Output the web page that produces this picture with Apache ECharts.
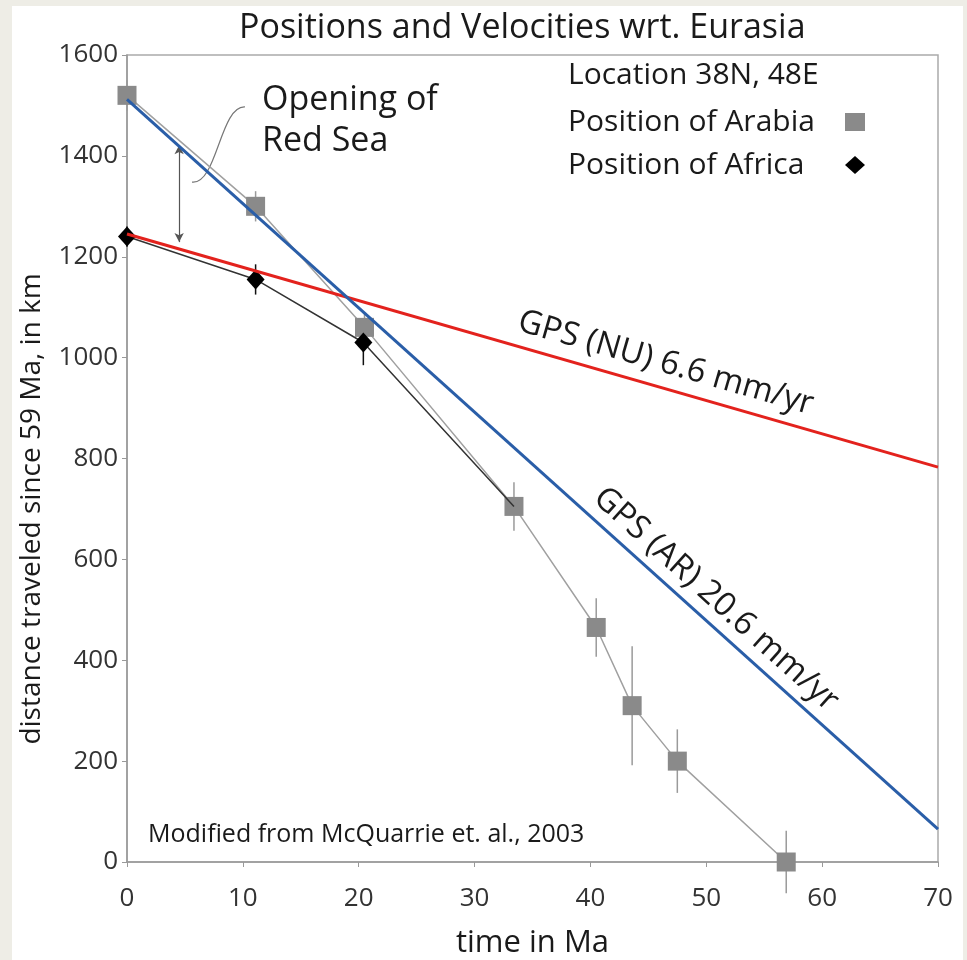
<!DOCTYPE html>
<html><head><meta charset="utf-8">
<script src="https://cdn.jsdelivr.net/npm/echarts@6/dist/echarts.min.js"></script>
<style>
html,body{margin:0;padding:0;background:#eeede6;}
#frame{position:absolute;left:12px;top:6px;width:951px;height:954px;background:#fff;}
#chart{position:absolute;left:0;top:0;width:967px;height:960px;}
</style>
</head><body><div id="frame"></div><div id="chart"></div>
<script>
// ---- data ----
const arabiaAge  = [0, 11.1, 20.5, 33.4, 40.5, 43.6, 47.5, 56.9];
const arabiaDist = [1520, 1300, 1060, 705, 465, 310, 200, 0];
const arabiaErr  = [30, 30, 30, 48, 58, 118, 63, 62];
const africaAge  = [0, 11.1, 20.4, 33.4];
const africaDist = [1240, 1155, 1030, 705];
const africaErr  = [20, 30, 45];
const gpsNU = [[0, 1245], [70, 783]];
const gpsAR = [[0, 1512], [70, 65]];
const xTicks = [0, 10, 20, 30, 40, 50, 60, 70];
const yTicks = [0, 200, 400, 600, 800, 1000, 1200, 1400, 1600];
const redSeaArrow = [[4.5, 1421], [4.5, 1229]];

const FONT = '"Open Sans", "Noto Sans", sans-serif';
const chart = echarts.init(document.getElementById('chart'), null, {renderer: 'canvas'});

const arabiaData = arabiaAge.map((a, i) => [a, arabiaDist[i]]);
const africaData = africaAge.map((a, i) => i < africaAge.length - 1 ? [a, africaDist[i]] : {value: [a, africaDist[i]], symbol: 'none'});
const arabiaErrData = arabiaAge.map((a, i) => [a, arabiaDist[i] - arabiaErr[i], arabiaDist[i] + arabiaErr[i]]);
const africaErrData = africaErr.map((e, i) => [africaAge[i], africaDist[i] - e, africaDist[i] + e]);

function errRender(color) {
  return function (params, api) {
    const p1 = api.coord([api.value(0), api.value(1)]);
    const p2 = api.coord([api.value(0), api.value(2)]);
    return {type: 'line', shape: {x1: p1[0], y1: p1[1], x2: p2[0], y2: p2[1]},
      style: {stroke: color, lineWidth: 1.5}};
  };
}

const option = {
  animation: false,
  title: {text: 'Positions and Velocities wrt. Eurasia', left: 234, top: 6,
    textStyle: {fontFamily: FONT, fontSize: 34, fontWeight: 'normal', color: '#1a1a1a'}},
  grid: {left: 127, right: 29, top: 55, bottom: 98, show: true, borderColor: '#aaa', borderWidth: 1.5,
    backgroundColor: 'transparent', containLabel: false, outerBoundsMode: 'none'},
  legend: {
    left: 568, top: 107, orient: 'vertical', align: 'right', itemGap: 13,
    itemWidth: 20, itemHeight: 18, padding: 0,
    formatter: name => '{t|' + name + '}',
    textStyle: {fontFamily: FONT, fontSize: 30, color: '#1a1a1a', lineHeight: 30,
      rich: {t: {width: 272, align: 'left', fontFamily: FONT, fontSize: 30, color: '#1a1a1a', lineHeight: 30}}},
    data: [{name: 'Position of Arabia', icon: 'rect'}, {name: 'Position of Africa', icon: 'diamond'}]
  },
  xAxis: {
    type: 'value', min: xTicks[0], max: xTicks[xTicks.length - 1], interval: 10,
    name: 'time in Ma', nameLocation: 'middle', nameGap: 66,
    nameTextStyle: {fontFamily: FONT, fontSize: 31, color: '#1a1a1a'},
    axisLine: {show: true, lineStyle: {color: '#999', width: 1.5}},
    axisTick: {show: true, inside: false, length: 5, lineStyle: {color: '#999'}},
    axisLabel: {fontFamily: FONT, fontSize: 26, color: '#333', margin: 24},
    splitLine: {show: false}
  },
  yAxis: {
    type: 'value', min: yTicks[0], max: yTicks[yTicks.length - 1], interval: 200,
    axisLine: {show: true, lineStyle: {color: '#999', width: 1.5}},
    axisTick: {show: true, inside: false, length: 5, lineStyle: {color: '#999'}},
    axisLabel: {fontFamily: FONT, fontSize: 26, color: '#333', margin: 9, formatter: v => String(v)},
    splitLine: {show: false}
  },
  series: [
    {type: 'custom', name: 'errA', renderItem: errRender('#9a9a9a'), data: arabiaErrData, z: 2, silent: true},
    {type: 'custom', name: 'errF', renderItem: errRender('#111'), data: africaErrData, z: 2, silent: true},
    {type: 'line', name: 'Position of Arabia', data: arabiaData, z: 3,
      symbol: 'rect', symbolSize: 19, itemStyle: {color: '#8a8a8a'},
      lineStyle: {color: '#a0a0a0', width: 1.5}},
    {type: 'line', name: 'Position of Africa', data: africaData, z: 4,
      symbol: 'diamond', symbolSize: [18, 20], itemStyle: {color: '#000'},
      lineStyle: {color: '#333', width: 1.5},
      markLine: {silent: true, symbol: ['arrow', 'arrow'], symbolSize: [7, 9],
        lineStyle: {color: '#555', width: 1.2, type: 'solid'}, label: {show: false},
        data: [[{coord: redSeaArrow[0]}, {coord: redSeaArrow[1]}]]}},
    {type: 'line', name: 'GPS (NU)', data: gpsNU, z: 5, symbol: 'none',
      lineStyle: {color: '#e3221d', width: 3}},
    {type: 'line', name: 'GPS (AR)', data: gpsAR, z: 6, symbol: 'none',
      lineStyle: {color: '#2a5ea8', width: 3}},
    {type: 'custom', name: 'brace', silent: true, z: 3,
      data: [[10.18, 1497, 8.03, 1500, 7.77, 1342, 5.61, 1348]],
      renderItem: function (params, api) {
        const a = api.coord([api.value(0), api.value(1)]);
        const c1 = api.coord([api.value(2), api.value(3)]);
        const c2 = api.coord([api.value(4), api.value(5)]);
        const b = api.coord([api.value(6), api.value(7)]);
        return {type: 'bezierCurve', shape: {x1: a[0], y1: a[1], cpx1: c1[0], cpy1: c1[1], cpx2: c2[0], cpy2: c2[1], x2: b[0], y2: b[1]},
          style: {stroke: '#777', lineWidth: 1.2, fill: null}};
      }}
  ]
};
chart.setOption(option);

function px(p) { return chart.convertToPixel({gridIndex: 0}, p); }
function angleOf(line) {
  const a = px(line[0]), b = px(line[1]);
  return -Math.atan2(b[1] - a[1], b[0] - a[0]);
}
const open1 = px([11.65, 1511]);
const open2 = px([11.65, 1429]);
const nuC = px([46.5, 989]);
const arC = px([50.84, 521]);
const tStyle = (extra) => Object.assign({fontFamily: FONT, fill: '#1a1a1a'}, extra);

chart.setOption({
  graphic: [
    {type: 'text', x: 568, y: 75, style: tStyle({text: 'Location 38N, 48E', fontSize: 30, verticalAlign: 'middle'})},
    {type: 'text', x: open1[0], y: open1[1], style: tStyle({text: 'Opening of', fontSize: 34, verticalAlign: 'middle'})},
    {type: 'text', x: open2[0], y: open2[1], style: tStyle({text: 'Red Sea', fontSize: 34, verticalAlign: 'middle'})},
    {type: 'text', x: 148, y: 835, style: tStyle({text: 'Modified from McQuarrie et. al., 2003', fontSize: 25, verticalAlign: 'middle'})},
    {type: 'text', x: 32, y: 509, rotation: Math.PI / 2, originX: 0, originY: 0,
      style: tStyle({text: 'distance traveled since 59 Ma, in km', fontSize: 28, align: 'center', verticalAlign: 'middle'})},
    {type: 'text', x: nuC[0], y: nuC[1], rotation: angleOf(gpsNU), originX: 0, originY: 0,
      style: tStyle({text: 'GPS (NU) 6.6 mm/yr', fontSize: 33, align: 'center', verticalAlign: 'middle'})},
    {type: 'text', x: arC[0], y: arC[1], rotation: angleOf(gpsAR), originX: 0, originY: 0,
      style: tStyle({text: 'GPS (AR) 20.6 mm/yr', fontSize: 33, align: 'center', verticalAlign: 'middle'})}
  ]
});
</script>
</body></html>
